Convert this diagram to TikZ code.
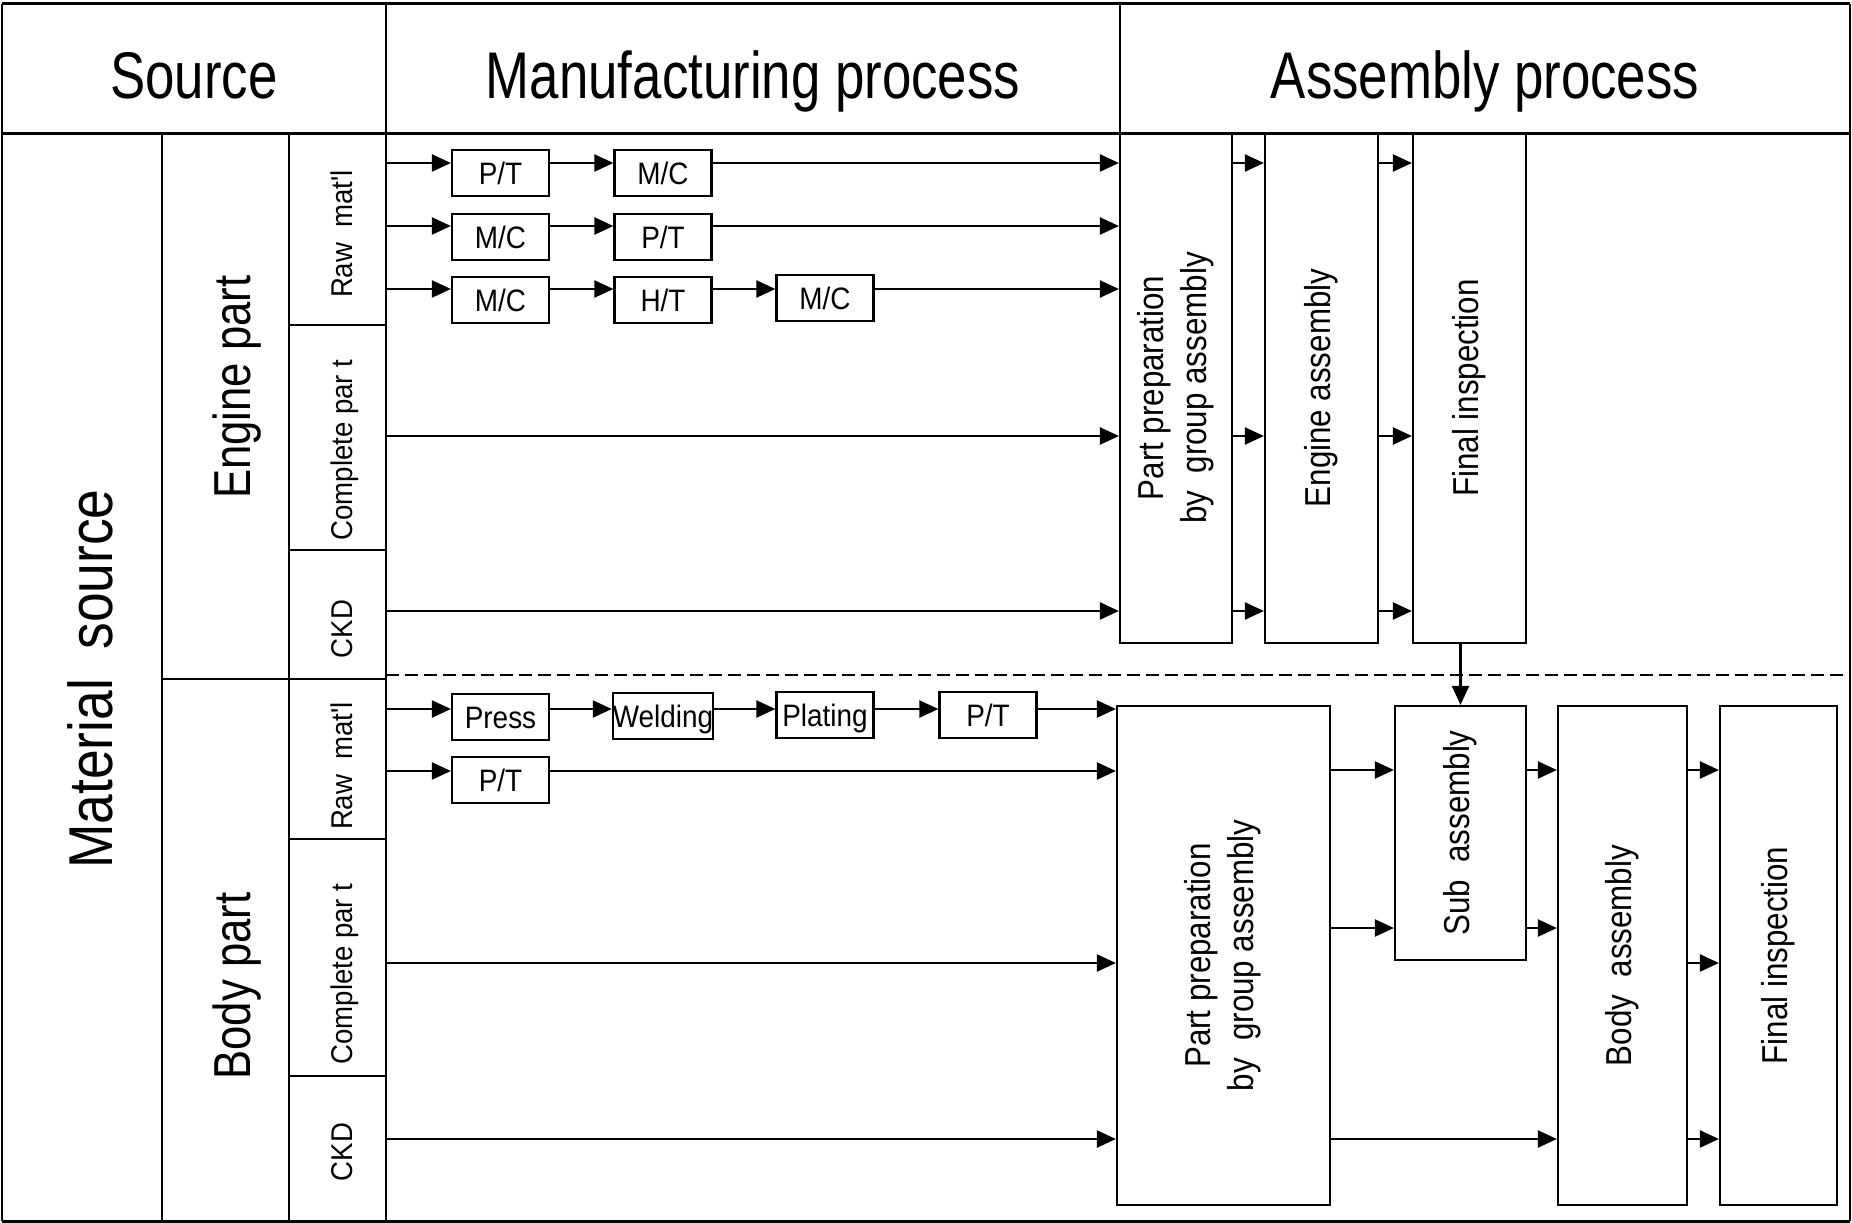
\documentclass[tikz,border=0pt]{standalone}
\usepackage{fontspec}
\usepackage{graphicx}
\setmainfont{Liberation Sans}
\newfontfamily\fhead[FakeStretch=0.8]{Liberation Sans}
\newfontfamily\fmid[FakeStretch=0.84]{Liberation Sans}
\newfontfamily\fmsrc[FakeStretch=0.86]{Liberation Sans}
\newfontfamily\fsmall[FakeStretch=0.92]{Liberation Sans}
\newfontfamily\fbx[FakeStretch=0.9]{Liberation Sans}
\newfontfamily\fbig[FakeStretch=0.87]{Liberation Sans}
\usetikzlibrary{arrows.meta}
\begin{document}
\begin{tikzpicture}[x=1pt,y=-1pt,line width=2.2pt,
  arr/.style={-{Triangle[length=19pt,width=17pt]},line width=2.2pt},
  hdr/.style={font=\fhead\fontsize{66}{79}\selectfont,inner sep=0pt},
  mid/.style={font=\fmid\fontsize{52}{62}\selectfont,inner sep=0pt},
  msrc/.style={font=\fmsrc\fontsize{62}{74}\selectfont,inner sep=0pt},
  small/.style={font=\fsmall\fontsize{30}{36}\selectfont,inner sep=0pt},
  sbox/.style={draw,line width=2.2pt,minimum width=97pt,minimum height=46pt,inner sep=0pt,
    text height=26pt,text depth=4pt,font=\fbx\fontsize{31}{34}\selectfont},
  bigbox/.style={draw,line width=2.2pt,inner sep=0pt,font=\fbig\fontsize{36}{43}\selectfont,align=center}]
\useasboundingbox (0,0) rectangle (1852,1223);
% frame and grid
\draw (2,4) -- (2,1221);
\draw (1850,4) -- (1850,1221);
\draw[line width=3pt] (2,4) -- (1850,4);
\draw[line width=3pt] (2,133) -- (1850,133);
\draw[line width=3pt] (2,1221) -- (1850,1221);
\draw (386,4) -- (386,1221);
\draw (1120,4) -- (1120,133);
\draw (162,133) -- (162,1221);
\draw (289,133) -- (289,1221);
\draw (289,325) -- (386,325);
\draw (289,550) -- (386,550);
\draw (162,679) -- (386,679);
\draw (289,839) -- (386,839);
\draw (289,1076) -- (386,1076);
\draw[dash pattern=on 13pt off 6pt] (386,675) -- (1850,675);
% headers
\node[hdr,anchor=base] (hsrc) at (194,99) {Source};
\node[hdr,anchor=base] (hman) at (753,99) {Manufacturing process};
\node[hdr,anchor=base] (hasm) at (1485,99) {Assembly process};
% left labels
\node[msrc,rotate=90,anchor=base] (lms) at (112,679) {Material\ \ source};
\node[mid,rotate=90,anchor=base] (lep) at (250,387) {Engine part};
\node[mid,rotate=90,anchor=base] (lbp) at (250,986) {Body part};
\node[small,rotate=90,anchor=base] (ler) at (352,234) {Raw\ \ mat'l};
\node[small,rotate=90,anchor=base] (lec) at (352,450) {Complete par t};
\node[small,rotate=90,anchor=base] (lek) at (352,629) {CKD};
\node[small,rotate=90,anchor=base] (lbr) at (352,766) {Raw\ \ mat'l};
\node[small,rotate=90,anchor=base] (lbc) at (352,974) {Complete par t};
\node[small,rotate=90,anchor=base] (lbk) at (352,1152) {CKD};
% engine small boxes
\node[sbox] (e11) at (500.5,173) {P/T};
\node[sbox] (e12) at (663,173) {M/C};
\node[sbox] (e21) at (500.5,237) {M/C};
\node[sbox] (e22) at (663,237) {P/T};
\node[sbox] (e31) at (500.5,300) {M/C};
\node[sbox] (e32) at (663,300) {H/T};
\node[sbox] (e33) at (825,298) {M/C};
% body small boxes
\node[sbox] (b11) at (500.5,717) {Press};
\node[sbox] (b12) at (663,716) {Welding};
\node[sbox] (b13) at (825,715) {Plating};
\node[sbox] (b14) at (988,715) {P/T};
\node[sbox] (b21) at (500.5,780) {P/T};
% engine assembly boxes
\node[bigbox,minimum width=112pt,minimum height=510pt] (epp) at (1176,388)
  {\rotatebox{90}{\begin{tabular}{@{}c@{}}Part preparation\\by\ \ group assembly\end{tabular}}};
\node[bigbox,minimum width=113pt,minimum height=510pt] (eea) at (1321.5,388)
  {\rotatebox{90}{Engine assembly}};
\node[bigbox,minimum width=113pt,minimum height=510pt] (efi) at (1469.5,388)
  {\rotatebox{90}{Final inspection}};
% body assembly boxes
\node[bigbox,minimum width=213pt,minimum height=499pt] (bpp) at (1223.5,955.5)
  {\rotatebox{90}{\begin{tabular}{@{}c@{}}Part preparation\\by\ \ group assembly\end{tabular}}};
\node[bigbox,minimum width=131pt,minimum height=254pt] (bsa) at (1460.5,833)
  {\rotatebox{90}{Sub\ \ assembly}};
\node[bigbox,minimum width=129pt,minimum height=499pt] (bba) at (1622.5,955.5)
  {\rotatebox{90}{Body\ \ assembly}};
\node[bigbox,minimum width=117pt,minimum height=499pt] (bfi) at (1778.5,955.5)
  {\rotatebox{90}{Final inspection}};
% row coordinates
\coordinate (r1) at (386,163);
\coordinate (r2) at (386,226);
\coordinate (r3) at (386,289);
\coordinate (r4) at (386,436);
\coordinate (r5) at (386,611);
\coordinate (s1) at (386,709);
\coordinate (s2) at (386,771);
\coordinate (s3) at (386,963);
\coordinate (s4) at (386,1139);
\coordinate (t1) at (386,770);
\coordinate (t2) at (386,928);
% engine rows
\draw[arr] (r1) -- (r1 -| e11.west);
\draw[arr] (r1 -| e11.east) -- (r1 -| e12.west);
\draw[arr] (r1 -| e12.east) -- (r1 -| epp.west);
\draw[arr] (r2) -- (r2 -| e21.west);
\draw[arr] (r2 -| e21.east) -- (r2 -| e22.west);
\draw[arr] (r2 -| e22.east) -- (r2 -| epp.west);
\draw[arr] (r3) -- (r3 -| e31.west);
\draw[arr] (r3 -| e31.east) -- (r3 -| e32.west);
\draw[arr] (r3 -| e32.east) -- (r3 -| e33.west);
\draw[arr] (r3 -| e33.east) -- (r3 -| epp.west);
\draw[arr] (r4) -- (r4 -| epp.west);
\draw[arr] (r5) -- (r5 -| epp.west);
% engine assembly flow
\draw[arr] (r1 -| epp.east) -- (r1 -| eea.west);
\draw[arr] (r4 -| epp.east) -- (r4 -| eea.west);
\draw[arr] (r5 -| epp.east) -- (r5 -| eea.west);
\draw[arr] (r1 -| eea.east) -- (r1 -| efi.west);
\draw[arr] (r4 -| eea.east) -- (r4 -| efi.west);
\draw[arr] (r5 -| eea.east) -- (r5 -| efi.west);
\draw[arr] (bsa.north |- efi.south) -- (bsa.north);
% body rows
\draw[arr] (s1) -- (s1 -| b11.west);
\draw[arr] (s1 -| b11.east) -- (s1 -| b12.west);
\draw[arr] (s1 -| b12.east) -- (s1 -| b13.west);
\draw[arr] (s1 -| b13.east) -- (s1 -| b14.west);
\draw[arr] (s1 -| b14.east) -- (s1 -| bpp.west);
\draw[arr] (s2) -- (s2 -| b21.west);
\draw[arr] (s2 -| b21.east) -- (s2 -| bpp.west);
\draw[arr] (s3) -- (s3 -| bpp.west);
\draw[arr] (s4) -- (s4 -| bpp.west);
% body assembly flow
\draw[arr] (t1 -| bpp.east) -- (t1 -| bsa.west);
\draw[arr] (t2 -| bpp.east) -- (t2 -| bsa.west);
\draw[arr] (t1 -| bsa.east) -- (t1 -| bba.west);
\draw[arr] (t2 -| bsa.east) -- (t2 -| bba.west);
\draw[arr] (s4 -| bpp.east) -- (s4 -| bba.west);
\draw[arr] (t1 -| bba.east) -- (t1 -| bfi.west);
\draw[arr] (s3 -| bba.east) -- (s3 -| bfi.west);
\draw[arr] (s4 -| bba.east) -- (s4 -| bfi.west);
\end{tikzpicture}
\end{document}
